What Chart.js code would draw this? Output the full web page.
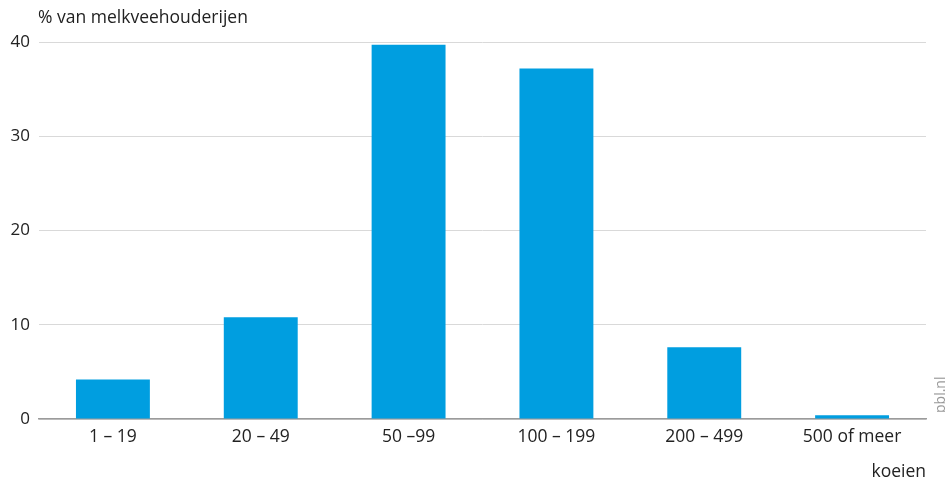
<!DOCTYPE html>
<html><head><meta charset="utf-8">
<script src="https://cdn.jsdelivr.net/npm/chart.js@4/dist/chart.umd.min.js"></script>
<style>html,body{margin:0;padding:0;background:#fff;}#wrap{width:945px;height:483px;position:relative;}</style>
</head><body><div id="wrap"><canvas id="c" width="945" height="483"></canvas></div>
<script>
const categories = ["1 – 19", "20 – 49", "50 –99", "100 – 199", "200 – 499", "500 of meer"];
const values = [4.2, 10.8, 39.7, 37.2, 7.6, 0.4];
const yTicks = [0, 10, 20, 30, 40];
const yTitle = "% van melkveehouderijen";
const xTitle = "koeien";
const source = "pbl.nl";

const FONT = "'Open Sans', 'DejaVu Sans', sans-serif";

const extraText = {
  id: 'extraText',
  afterDraw(chart) {
    const ctx = chart.ctx, a = chart.chartArea;
    ctx.save();
    ctx.fillStyle = '#222';
    ctx.font = '17.5px ' + FONT;
    ctx.textAlign = 'left';
    ctx.textBaseline = 'middle';
    ctx.fillText(yTitle, 38, 18);
    ctx.translate(941, a.bottom - 6);
    ctx.rotate(-Math.PI / 2);
    ctx.fillStyle = '#999';
    ctx.font = '14px ' + FONT;
    ctx.textAlign = 'left';
    ctx.fillText(source, 0, 0);
    ctx.restore();
  }
};

new Chart(document.getElementById('c'), {
  type: 'bar',
  data: {
    labels: categories,
    datasets: [{ data: values, backgroundColor: '#009ee0', borderWidth: 0, categoryPercentage: 1, barPercentage: 0.5 }]
  },
  options: {
    responsive: false, animation: false, devicePixelRatio: 1,
    layout: { padding: { top: 42, right: 19, left: 0, bottom: 0 } },
    plugins: { legend: { display: false }, tooltip: { enabled: false } },
    scales: {
      x: {
        grid: { display: false, drawTicks: false },
        border: { display: true, color: '#9b9b9b', width: 1.5 },
        ticks: { color: '#222', font: { family: FONT, size: 17.5 }, padding: 8, maxRotation: 0 },
        title: { display: true, text: xTitle, align: 'end', color: '#222', font: { family: FONT, size: 17.5 }, padding: { top: 0, bottom: 0 } },
        afterFit(s) { s.height = 64; }
      },
      y: {
        min: 0, max: 40,
        afterBuildTicks(s) { s.ticks = yTicks.map(v => ({ value: v })); },
        grid: { color: '#d9d9d9', lineWidth: 1, drawTicks: false },
        border: { display: false },
        ticks: { color: '#222', font: { family: FONT, size: 17 }, padding: 9 },
        afterFit(s) { s.width = 39; }
      }
    }
  },
  plugins: [extraText]
});
</script></body></html>
